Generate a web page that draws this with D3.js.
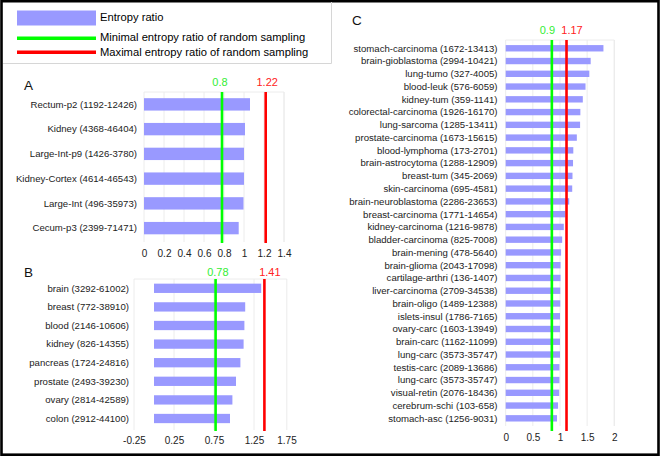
<!DOCTYPE html>
<html>
<head>
<meta charset="utf-8">
<script src="https://cdn.jsdelivr.net/npm/d3@7"></script>
<style>
  body { margin: 0; background: #fff; }
  text { font-family: "Liberation Sans", Arial, sans-serif; }
</style>
</head>
<body>
<script>
// panel A
var namesA = ["Rectum-p2 (1192-12426)", "Kidney (4368-46404)", "Large-Int-p9 (1426-3780)",
  "Kidney-Cortex (4614-46543)", "Large-Int (496-35973)", "Cecum-p3 (2399-71471)"];
var valuesA = [1.06, 1.01, 1.0, 1.0, 0.995, 0.947];
var ticksA = [0, 0.2, 0.4, 0.6, 0.8, 1, 1.2, 1.4];
var linesA = [0.78, 1.217];
var lineLabelsA = ["0.8", "1.22"];

// panel B
var namesB = ["brain (3292-61002)", "breast (772-38910)", "blood (2146-10606)", "kidney (826-14355)",
  "pancreas (1724-24816)", "prostate (2493-39230)", "ovary (2814-42589)", "colon (2912-44100)"];
var valuesB = [1.34, 1.14, 1.13, 1.12, 1.08, 1.025, 0.98, 0.95];
var ticksB = [-0.25, 0.25, 0.75, 1.25, 1.75];
var linesB = [0.77, 1.38];
var lineLabelsB = ["0.78", "1.41"];

// panel C
var namesC = ["stomach-carcinoma (1672-13413)", "brain-gioblastoma (2994-10421)", "lung-tumo (327-4005)",
  "blood-leuk (576-6059)", "kidney-tum (359-1141)", "colorectal-carcinoma (1926-16170)",
  "lung-sarcoma (1285-13411)", "prostate-carcinoma (1673-15615)", "blood-lymphoma (173-2701)",
  "brain-astrocytoma (1288-12909)", "breast-tum (345-2069)", "skin-carcinoma (695-4581)",
  "brain-neuroblastoma (2286-23653)", "breast-carcinoma (1771-14654)", "kidney-carcinoma (1216-9878)",
  "bladder-carcinoma (825-7008)", "brain-mening (478-5640)", "brain-glioma (2043-17098)",
  "cartilage-arthri (136-1407)", "liver-carcinoma (2709-34538)", "brain-oligo (1489-12388)",
  "islets-insul (1786-7165)", "ovary-carc (1603-13949)", "brain-carc (1162-11099)",
  "lung-carc (3573-35747)", "testis-carc (2089-13686)", "lung-carc (3573-35747)",
  "visual-retin (2076-18436)", "cerebrum-schi (103-658)", "stomach-asc (1256-9031)"];
var valuesC = [1.80, 1.565, 1.54, 1.47, 1.42, 1.375, 1.37, 1.31, 1.245,
  1.24, 1.23, 1.225, 1.17, 1.10, 1.07, 1.04, 1.02, 1.01, 1.01, 1.005, 1.005,
  1.0, 1.0, 1.0, 1.0, 0.99, 0.99, 0.985, 0.965, 0.945];
var ticksC = [0, 0.5, 1, 1.5, 2];
var linesC = [0.85, 1.12];
var lineLabelsC = ["0.9", "1.17"];

var legendLabels = ["Entropy ratio", "Minimal entropy ratio of random sampling", "Maximal entropy ratio of random sampling"];

var barColor = "#9999ff",
    minColor = "#00ff00",
    maxColor = "#ff0000",
    gridColor = "#ececec";

var svg = d3.select("body").append("svg")
  .attr("width", 661)
  .attr("height", 458);

// outer frame
svg.append("rect")
  .attr("x", 1.5).attr("y", 1.2)
  .attr("width", 657).attr("height", 453.5)
  .attr("fill", "none")
  .attr("stroke", "#000")
  .attr("stroke-width", 2.6);

// legend box
svg.append("path")
  .attr("d", "M3,63.5 H331.5 V2")
  .attr("fill", "none")
  .attr("stroke", "#d6d6d6");

var legend = svg.append("g");
legend.append("rect")
  .attr("x", 17).attr("y", 10.5)
  .attr("width", 79).attr("height", 15)
  .attr("fill", barColor);
legend.append("line")
  .attr("x1", 17).attr("x2", 96).attr("y1", 38.3).attr("y2", 38.3)
  .attr("stroke", minColor).attr("stroke-width", 3.5);
legend.append("line")
  .attr("x1", 17).attr("x2", 96).attr("y1", 52.3).attr("y2", 52.3)
  .attr("stroke", maxColor).attr("stroke-width", 3.5);
legend.selectAll("text.leg")
  .data(legendLabels)
  .enter()
  .append("text")
    .attr("class", "leg")
    .attr("x", 100)
    .attr("y", function(d, i) { return [17.5, 37.5, 52.5][i]; })
    .attr("dy", "0.35em")
    .style("font-size", "11.2px")
    .text(function(d) { return d; });

// draws one panel of bars with the two threshold lines
function drawPanel(p) {
  var x = d3.scaleLinear().domain(p.domain).range(p.xRange);
  var y = d3.scaleBand()
    .domain(d3.range(p.names.length))
    .range(p.yRange)
    .paddingInner(0.5)
    .paddingOuter(0.25);

  var g = svg.append("g");

  // gridlines (only inside the plot) plus the right edge of the plot
  var grid = p.ticks.filter(function(d) { return d <= p.domain[1]; });
  grid.push(p.domain[1]);
  g.selectAll("line.grid")
    .data(grid)
    .enter()
    .append("line")
      .attr("x1", function(d) { return x(d); })
      .attr("x2", function(d) { return x(d); })
      .attr("y1", p.frameTop)
      .attr("y2", p.frameBottom)
      .attr("stroke", gridColor);
  g.append("line")
    .attr("x1", x(p.domain[0])).attr("x2", x(p.domain[1]))
    .attr("y1", p.frameTop).attr("y2", p.frameTop)
    .attr("stroke", gridColor);

  // bars
  g.selectAll("rect.bar")
    .data(p.values)
    .enter()
    .append("rect")
      .attr("class", "bar")
      .attr("x", x(0))
      .attr("y", function(d, i) { return y(i); })
      .attr("width", function(d) { return x(d) - x(0); })
      .attr("height", y.bandwidth())
      .attr("fill", barColor);

  // category labels
  g.selectAll("text.cat")
    .data(p.names)
    .enter()
    .append("text")
      .attr("class", "cat")
      .attr("x", p.labelX)
      .attr("y", function(d, i) { return y(i) + y.bandwidth() / 2; })
      .attr("dy", "0.35em")
      .attr("text-anchor", "end")
      .style("font-size", p.fontSize)
      .attr("fill", "#222")
      .text(function(d) { return d; });

  // x axis
  var axis = g.append("g")
    .attr("transform", "translate(0," + p.tickY + ")")
    .call(d3.axisBottom(x).tickValues(p.ticks).tickSize(0).tickPadding(0)
      .tickFormat(function(d) { return String(d); }));
  axis.select(".domain").remove();
  axis.selectAll("text")
    .attr("dy", "0.35em")
    .attr("y", 0)
    .style("font-size", "10px")
    .style("font-family", "'Liberation Sans', Arial, sans-serif")
    .attr("fill", "#222");

  // threshold lines
  var colors = [minColor, maxColor];
  g.selectAll("line.thr")
    .data(p.lines)
    .enter()
    .append("line")
      .attr("x1", function(d) { return x(d); })
      .attr("x2", function(d) { return x(d); })
      .attr("y1", p.frameTop)
      .attr("y2", p.lineBottom)
      .attr("stroke", function(d, i) { return colors[i]; })
      .attr("stroke-width", 2.6);
  g.selectAll("text.thr")
    .data(p.lines)
    .enter()
    .append("text")
      .attr("x", function(d, i) { return x(d) + p.labelShift[i]; })
      .attr("y", p.lineLabelY)
      .attr("dy", "0.35em")
      .attr("text-anchor", "middle")
      .style("font-size", "11px")
      .attr("fill", function(d, i) { return i == 0 ? "#33ee33" : "#ff2222"; })
      .text(function(d, i) { return p.lineLabels[i]; });

  // panel letter
  g.append("text")
    .attr("x", p.letterX).attr("y", p.letterY)
    .attr("dy", "0.35em")
    .style("font-size", "13.5px")
    .attr("fill", "#111")
    .text(p.letter);
}

drawPanel({
  letter: "A", letterX: 24, letterY: 85,
  names: namesA, values: valuesA, ticks: ticksA,
  lines: linesA, lineLabels: lineLabelsA, labelShift: [-2, 1.5],
  domain: [0, 1.4], xRange: [144, 284],
  yRange: [92, 240.5], frameTop: 92, frameBottom: 242, lineBottom: 243,
  lineLabelY: 82, tickY: 253, labelX: 137, fontSize: "9.6px"
});

drawPanel({
  letter: "B", letterX: 24, letterY: 272,
  names: namesB, values: valuesB, ticks: ticksB,
  lines: linesB, lineLabels: lineLabelsB, labelShift: [2.3, 5.5],
  domain: [-0.25, 1.66], xRange: [134, 286.8],
  yRange: [279, 427.8], frameTop: 279, frameBottom: 430, lineBottom: 431,
  lineLabelY: 272, tickY: 440, labelX: 129, fontSize: "9.6px"
});

drawPanel({
  letter: "C", letterX: 352, letterY: 20,
  names: namesC, values: valuesC, ticks: ticksC,
  lines: linesC, lineLabels: lineLabelsC, labelShift: [-4.5, 5.5],
  domain: [0, 2], xRange: [505.7, 614.3],
  yRange: [41.9, 424.7], frameTop: 40, frameBottom: 426, lineBottom: 431,
  lineLabelY: 30, tickY: 437, labelX: 497.5, fontSize: "9.6px"
});

// the last tick label of panel B sits on the plot's right edge, as in the reference
svg.selectAll(".tick text")
  .filter(function(d) { return d == 1.75; })
  .attr("x", -7.5);
</script>
</body>
</html>
